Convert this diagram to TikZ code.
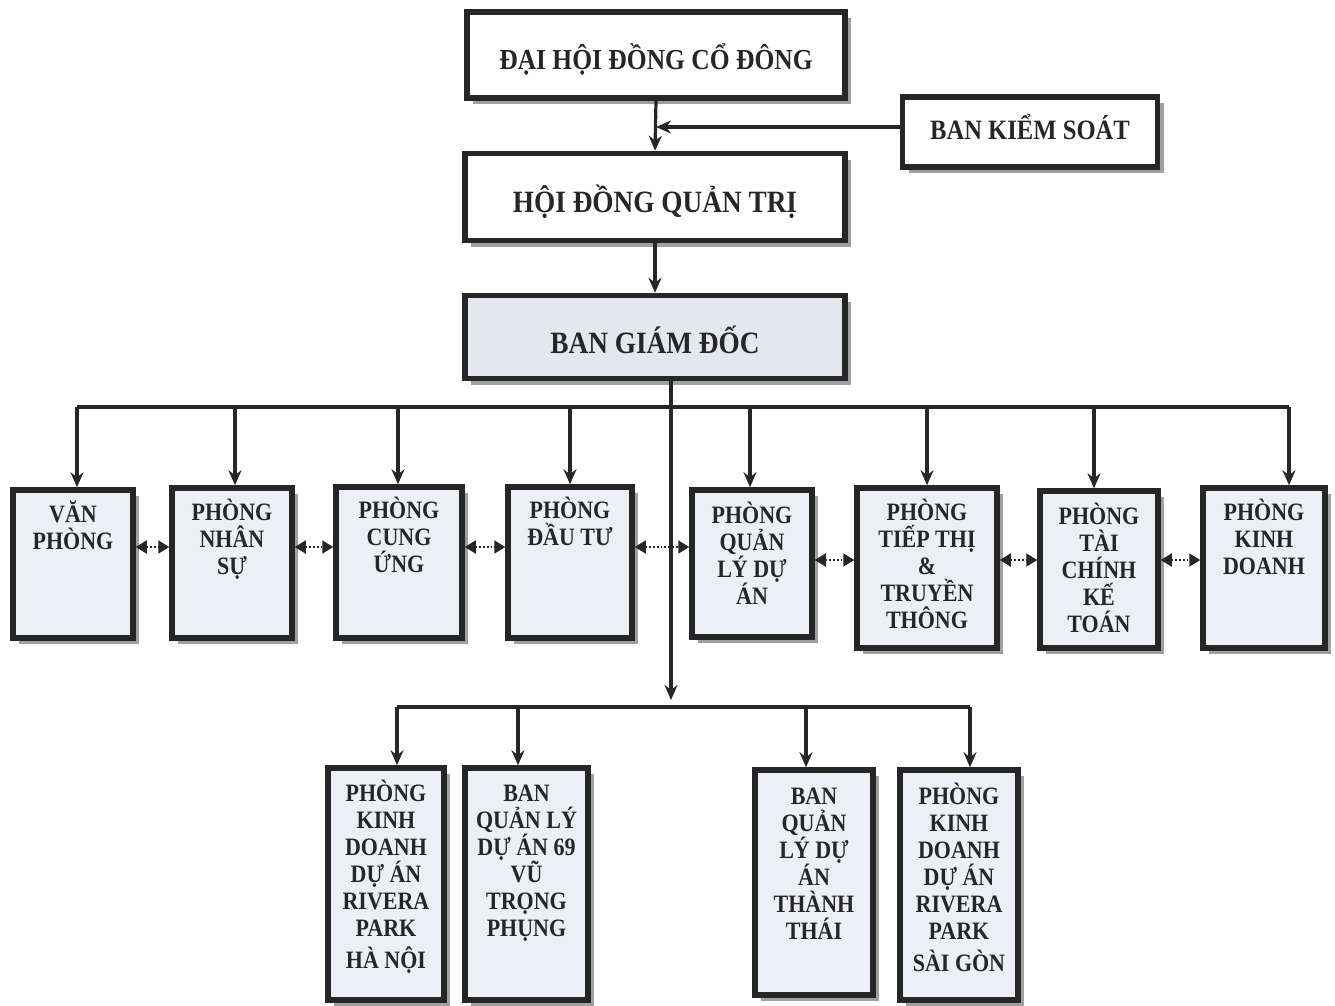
\documentclass[tikz,border=0pt]{standalone}
\usepackage{fontspec}
\setmainfont{Liberation Serif}[FakeStretch=0.88]
\usetikzlibrary{arrows.meta,shadows}
\AtBeginDocument{\lineskiplimit=-30pt\relax}
\newcommand{\fl}{\rule{0pt}{24pt}}
\definecolor{ln}{HTML}{262626}
\definecolor{bx}{HTML}{ECEFF3}
\definecolor{bxg}{HTML}{E4E7EC}
\definecolor{sh}{HTML}{A0A0A0}
\tikzset{
  box/.style={draw=ln, line width=5.5pt, fill=#1, inner sep=0pt,
    drop shadow={shadow xshift=6pt, shadow yshift=-6pt, fill=sh, opacity=1}},
  box/.default=bx,
  toptxt/.style={font=\bfseries\fontsize{31}{33}\selectfont, text=black!85},
  lbl/.style={anchor=north, align=center, inner sep=0pt, text=black!85,
    font=\bfseries\fontsize{25}{27}\selectfont},
  conn/.style={draw=ln, line width=3.2pt},
  arr/.style={conn, -{Stealth[length=15pt,width=13pt,inset=5pt]}},
  darr/.style={draw=ln, line width=1.8pt, dotted,
    {Triangle[length=11pt,width=13pt]}-{Triangle[length=11pt,width=13pt]}}
}
\begin{document}
\begin{tikzpicture}[x=1pt,y=-1pt]
\useasboundingbox[fill=white] (0,0) rectangle (1335,1005);

% top boxes
\node[box=white, minimum width=378pt, minimum height=86pt] (dh) at (656,55) {};
\node[toptxt, font=\bfseries\fontsize{29}{31}\selectfont] (dht) at ([yshift=-4pt]dh.center) {ĐẠI HỘI ĐỒNG CỔ ĐÔNG};
\node[box=white, minimum width=255pt, minimum height=70pt] (bks) at (1030,132) {};
\node[toptxt, font=\bfseries\fontsize{28}{30}\selectfont] (bkst) at ([yshift=5pt]bks.center) {BAN KIỂM SOÁT};
\node[box=white, minimum width=380pt, minimum height=87pt] (hd) at (655,197) {};
\node[toptxt] (hdt) at ([yshift=-5pt]hd.center) {HỘI ĐỒNG QUẢN TRỊ};
\node[box=bxg, minimum width=380pt, minimum height=83pt] (bgd) at (655,337) {};
\node[toptxt] (bgdt) at ([yshift=-3pt]bgd.center) {BAN GIÁM ĐỐC};

% middle row
\node[box, minimum width=120pt, minimum height=148pt] (p1) at (73,564) {};
\node[box, minimum width=120pt, minimum height=150pt] (p2) at (232,563) {};
\node[box, minimum width=126pt, minimum height=151pt] (p3) at (399,562.5) {};
\node[box, minimum width=124pt, minimum height=151pt] (p4) at (570,562.5) {};
\node[box, minimum width=120pt, minimum height=147pt] (p5) at (752,563.5) {};
\node[box, minimum width=140pt, minimum height=160pt] (p6) at (927,568) {};
\node[box, minimum width=118pt, minimum height=157pt] (p7) at (1099,569.5) {};
\node[box, minimum width=122pt, minimum height=160pt] (p8) at (1264,568) {};

\node[lbl] (t1) at ([yshift=-11pt]p1.north) {\fl VĂN\\PHÒNG};
\node[lbl] (t2) at ([yshift=-11pt]p2.north) {\fl PHÒNG\\NHÂN\\SỰ};
\node[lbl] (t3) at ([yshift=-10pt]p3.north) {\fl PHÒNG\\CUNG\\ỨNG};
\node[lbl] (t4) at ([yshift=-10pt]p4.north) {\fl PHÒNG\\ĐẦU TƯ};
\node[lbl] (t5) at ([yshift=-12pt]p5.north) {\fl PHÒNG\\QUẢN\\LÝ DỰ\\ÁN};
\node[lbl] (t6) at ([yshift=-11pt]p6.north) {\fl PHÒNG\\TIẾP THỊ\\\&\\TRUYỀN\\THÔNG};
\node[lbl] (t7) at ([yshift=-12pt]p7.north) {\fl PHÒNG\\TÀI\\CHÍNH\\KẾ\\TOÁN};
\node[lbl] (t8) at ([yshift=-11pt]p8.north) {\fl PHÒNG\\KINH\\DOANH};

% bottom row
\node[box, minimum width=116pt, minimum height=232pt] (b1) at (386,884) {};
\node[box, minimum width=123pt, minimum height=232pt] (b2) at (526.5,884) {};
\node[box, minimum width=118pt, minimum height=225pt] (b3) at (814,882.5) {};
\node[box, minimum width=118pt, minimum height=230pt] (b4) at (959,885) {};

\node[lbl] (u1) at ([yshift=-12pt]b1.north) {\fl PHÒNG\\KINH\\DOANH\\DỰ ÁN\\RIVERA\\PARK\\[5pt]HÀ NỘI};
\node[lbl] (u2) at ([yshift=-12pt]b2.north) {\fl BAN\\QUẢN LÝ\\DỰ ÁN 69\\VŨ\\TRỌNG\\PHỤNG};
\node[lbl] (u3) at ([yshift=-13pt]b3.north) {\fl BAN\\QUẢN\\LÝ DỰ\\ÁN\\THÀNH\\THÁI};
\node[lbl] (u4) at ([yshift=-13pt]b4.north) {\fl PHÒNG\\KINH\\DOANH\\DỰ ÁN\\RIVERA\\PARK\\[5pt]SÀI GÒN};

% top connectors
\draw[arr] (dh.south) -- (hd.north);
\coordinate (k0) at ([yshift=5pt]bks.west);
\draw[arr] (k0) -- (k0 -| dh.south);
\draw[arr] (hd.south) -- (bgd.north);

% top bus
\coordinate (d1) at (77,407);
\coordinate (d2) at (235,407);
\coordinate (d3) at (398,407);
\coordinate (d4) at (570,407);
\coordinate (d5) at (750,407);
\coordinate (d6) at (927,407);
\coordinate (d7) at (1094,407);
\coordinate (d8) at (1289,407);
\draw[conn] (d1) -- (d8);
\draw[arr] (d1) -- (d1 |- p1.north);
\draw[arr] (d2) -- (d2 |- p2.north);
\draw[arr] (d3) -- (d3 |- p3.north);
\draw[arr] (d4) -- (d4 |- p4.north);
\draw[arr] (d5) -- (d5 |- p5.north);
\draw[arr] (d6) -- (d6 |- p6.north);
\draw[arr] (d7) -- (d7 |- p7.north);
\draw[arr] (d8) -- (d8 |- p8.north);

% trunk
\coordinate (tr) at ([xshift=16pt]bgd.south);
\coordinate (bb) at (0,700);
\draw[arr] (tr) -- (tr |- bb);

% bottom bus
\coordinate (e1) at (397,707);
\coordinate (e2) at (518,707);
\coordinate (e3) at (806,707);
\coordinate (e4) at (970,707);
\draw[conn] (e1) -- (e4);
\draw[arr] (e1) -- (e1 |- b1.north);
\draw[arr] (e2) -- (e2 |- b2.north);
\draw[arr] (e3) -- (e3 |- b3.north);
\draw[arr] (e4) -- (e4 |- b4.north);

% dotted links
\coordinate (ya) at (0,547);
\coordinate (yb) at (0,560);
\draw[darr] (p1.east |- ya) -- (p2.west |- ya);
\draw[darr] (p2.east |- ya) -- (p3.west |- ya);
\draw[darr] (p3.east |- ya) -- (p4.west |- ya);
\draw[darr] (p4.east |- ya) -- (p5.west |- ya);
\draw[darr] (p5.east |- yb) -- (p6.west |- yb);
\draw[darr] (p6.east |- yb) -- (p7.west |- yb);
\draw[darr] (p7.east |- yb) -- (p8.west |- yb);
\end{tikzpicture}
\end{document}
